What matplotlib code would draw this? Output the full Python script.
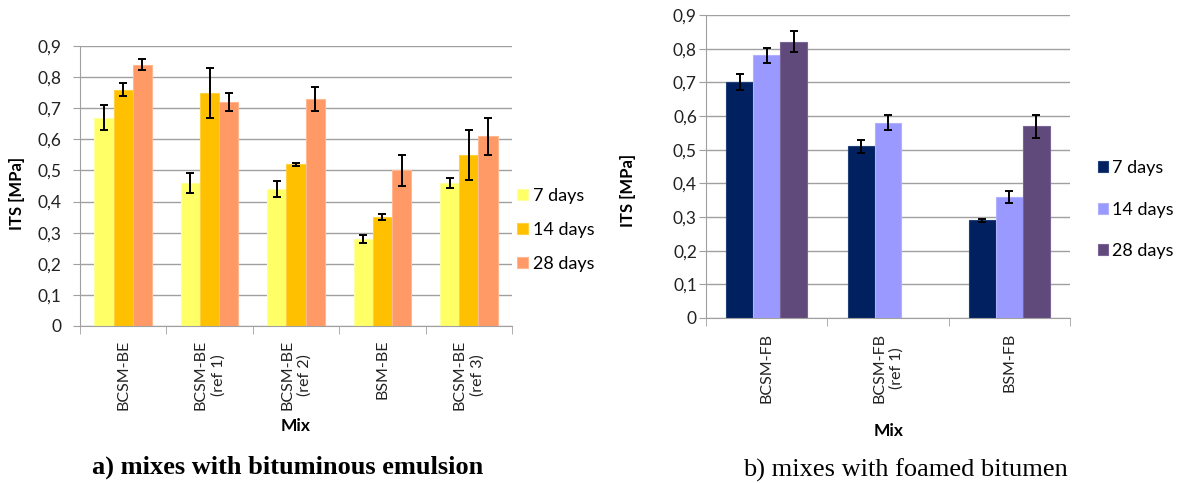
import matplotlib
matplotlib.use("Agg")
import matplotlib.pyplot as plt
import numpy as np
from matplotlib.ticker import FixedLocator, NullFormatter

# ---------------- data ----------------
series_labels = ["7 days", "14 days", "28 days"]

be_mixes = ["BCSM-BE", "BCSM-BE\n(ref 1)", "BCSM-BE\n(ref 2)", "BSM-BE", "BCSM-BE\n(ref 3)"]
be_7 = [0.67, 0.46, 0.44, 0.28, 0.46]
be_14 = [0.76, 0.75, 0.52, 0.35, 0.55]
be_28 = [0.84, 0.72, 0.73, 0.50, 0.61]
be_7_err = [0.04, 0.033, 0.025, 0.013, 0.015]
be_14_err = [0.02, 0.08, 0.005, 0.01, 0.08]
be_28_err = [0.017, 0.03, 0.038, 0.05, 0.06]

fb_mixes = ["BCSM-FB", "BCSM-FB\n(ref 1)", "BSM-FB"]
fb_7 = [0.70, 0.51, 0.29]
fb_14 = [0.78, 0.58, 0.36]
fb_28 = [0.82, np.nan, 0.57]
fb_7_err = [0.024, 0.019, 0.004]
fb_14_err = [0.022, 0.022, 0.017]
fb_28_err = [0.031, np.nan, 0.034]

y_ticks = [0, 0.1, 0.2, 0.3, 0.4, 0.5, 0.6, 0.7, 0.8, 0.9]
y_tick_labels = ["0", "0,1", "0,2", "0,3", "0,4", "0,5", "0,6", "0,7", "0,8", "0,9"]

be_colors = ["#FFFF66", "#FFC000", "#FF9966"]
be_edges = ["#FFFFA0", "#FFD040", "#FFB890"]
fb_colors = ["#002060", "#9999FF", "#604A7B"]
fb_edges = ["#20407A", "#B0B0FF", "#7A6496"]

FONT = ["Lato", "DejaVu Sans"]
plt.rcParams["font.family"] = FONT

W, H = 1184, 483
fig = plt.figure(figsize=(W / 100, H / 100), dpi=100)


def px_axes(x0, y0, x1, y1):
    return fig.add_axes([x0 / W, 1 - y1 / H, (x1 - x0) / W, (y1 - y0) / H])


def draw(ax, mixes, vals, errs, colors, edges, ypad, xpad):
    n = len(mixes)
    x = np.arange(n)
    bw = 0.222
    for i, (v, e) in enumerate(zip(vals, errs)):
        xs = x + (i - 1) * bw
        ax.bar(xs, v, width=bw, color=colors[i], edgecolor=edges[i], linewidth=0.8,
               label=series_labels[i], zorder=2)
        ax.errorbar(xs, v, yerr=e, fmt="none", ecolor="black", elinewidth=1.4,
                    capsize=3.0, capthick=1.4, zorder=3)
    ax.set_xlim(-0.5, n - 0.5)
    ax.set_ylim(0, 0.9)
    ax.set_yticks(y_ticks)
    ax.set_yticklabels(y_tick_labels)
    ax.yaxis.grid(True, color="#A0A0A0", linewidth=1.0, zorder=0)
    ax.set_axisbelow(True)
    for s in ["top", "right"]:
        ax.spines[s].set_visible(False)
    ax.spines["left"].set_color("#A0A0A0")
    ax.spines["bottom"].set_color("#A0A0A0")
    ax.tick_params(axis="y", length=5, color="#A0A0A0", labelsize=12.5, pad=ypad,
                   labelcolor="#222222")
    ax.set_xticks(x)
    ax.set_xticklabels(mixes, rotation=90, va="top", ha="center", multialignment="center",
                       fontsize=11.5, color="#222222", linespacing=1.3)
    ax.tick_params(axis="x", which="major", length=0, pad=xpad)
    ax.xaxis.set_minor_locator(FixedLocator(np.arange(n + 1) - 0.5))
    ax.xaxis.set_minor_formatter(NullFormatter())
    ax.tick_params(axis="x", which="minor", length=6, color="#A0A0A0")


# left chart
ax1 = px_axes(80, 46, 512, 326)
draw(ax1, be_mixes, [be_7, be_14, be_28], [be_7_err, be_14_err, be_28_err],
     be_colors, be_edges, ypad=8.5, xpad=10)
fig.text(17 / W, 1 - 193 / H, "ITS [MPa]", rotation=90, ha="center", va="center",
         fontsize=12, fontweight="bold")
fig.text(296 / W, 1 - 426 / H, "Mix", ha="center", va="center", fontsize=12.5, fontweight="bold")
ax1.legend(loc="center left", bbox_to_anchor=(517 / W, 1 - 230 / H),
           bbox_transform=fig.transFigure, frameon=False, fontsize=13,
           handlelength=0.61, handleheight=0.61, handletextpad=0.28,
           labelspacing=1.0, borderpad=0, borderaxespad=0)

# right chart
ax2 = px_axes(706, 15, 1070, 318)
draw(ax2, fb_mixes, [fb_7, fb_14, fb_28], [fb_7_err, fb_14_err, fb_28_err],
     fb_colors, fb_edges, ypad=1.5, xpad=10.8)
fig.text(628 / W, 1 - 190 / H, "ITS [MPa]", rotation=90, ha="center", va="center",
         fontsize=12, fontweight="bold")
fig.text(889 / W, 1 - 431 / H, "Mix", ha="center", va="center", fontsize=12.5, fontweight="bold")
ax2.legend(loc="center left", bbox_to_anchor=(1098 / W, 1 - 209.5 / H),
           bbox_transform=fig.transFigure, frameon=False, fontsize=13,
           handlelength=0.57, handleheight=0.57, handletextpad=0.21,
           labelspacing=1.42, borderpad=0, borderaxespad=0)

# captions
fig.text(288 / W, 1 - 467 / H, "a) mixes with bituminous emulsion", ha="center", va="center",
         fontsize=19, fontweight="bold", family="Liberation Serif")
fig.text(905 / W, 1 - 470 / H, "b) mixes with foamed bitumen", ha="center", va="center",
         fontsize=19, family="Liberation Serif")

fig.savefig("out.png", dpi=100)
